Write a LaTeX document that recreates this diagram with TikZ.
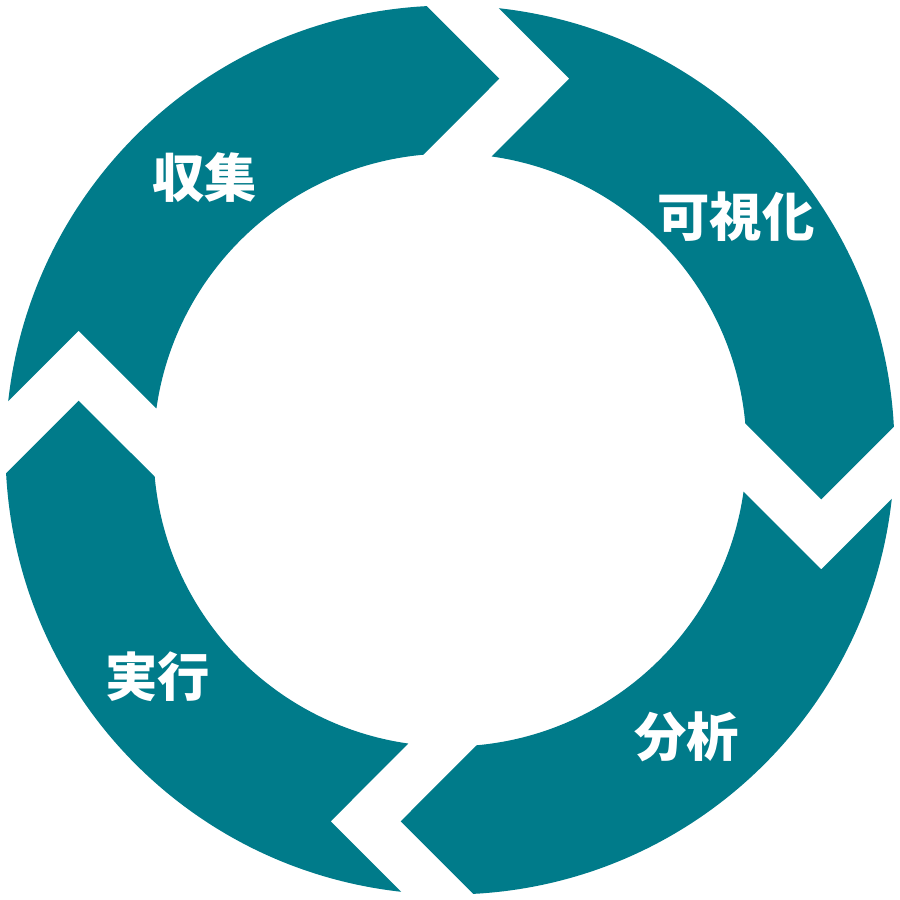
\documentclass[tikz,border=0pt]{standalone}
\usepackage{fontspec}
\newfontfamily\cjk{Noto Sans CJK JP}
\definecolor{cycleteal}{HTML}{007B8A}
\tikzset{main seg/.style={fill=cycleteal,draw=none}, }
\tikzset{main text/.style={text=white,inner sep=0pt,
    font=\cjk\bfseries\fontsize{14.9pt}{16pt}\selectfont}, }

\begin{document}
\begin{tikzpicture}
  \useasboundingbox (-4.5,-4.5) rectangle (4.5,4.5);
  % one arrow segment, turned four times
  \foreach \r in {0,-90,-180,-270}
    \fill[main seg,rotate=\r] (173.70:4.445) -- (-3.713,1.193) -- (171.94:2.965)
      arc[start angle=171.94,end angle=95.17,radius=2.965]
      -- (0.493,3.713) -- (93.00:4.445)
      arc[start angle=93.00,end angle=173.70,radius=4.445] -- cycle;
  %
  \node[main text] (1) at (-2.45,2.72) {収集};
  \node[main text] (2) at (2.86,2.33)  {可視化};
  \node[main text] (3) at (2.37,-2.87) {分析};
  \node[main text] (4) at (-2.92,-2.27) {実行};
\end{tikzpicture}
\end{document}
